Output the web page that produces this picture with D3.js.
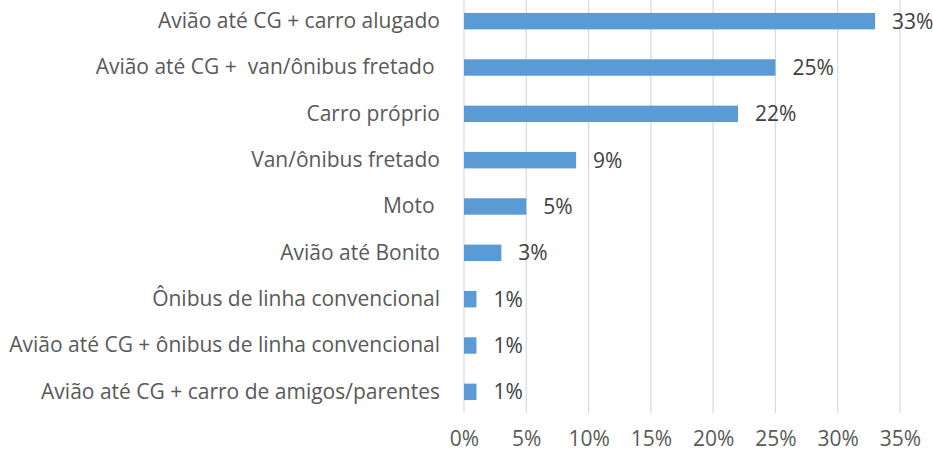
<!DOCTYPE html>
<html>
<head>
<meta charset="utf-8">
<script src="https://d3js.org/d3.v7.min.js"></script>
<style>
  body { margin: 0; background: #fff; }
  text { font-family: "Open Sans", sans-serif; white-space: pre; }
</style>
</head>
<body>
<svg id="drawing_region"></svg>
<script>
const categories = [
    "Avião até CG + carro alugado",
    "Avião até CG +  van/ônibus fretado ",
    "Carro próprio",
    "Van/ônibus fretado",
    "Moto ",
    "Avião até Bonito",
    "Ônibus de linha convencional",
    "Avião até CG + ônibus de linha convencional",
    "Avião até CG + carro de amigos/parentes"
];
const values = [33, 25, 22, 9, 5, 3, 1, 1, 1];
const xticks = [0, 5, 10, 15, 20, 25, 30, 35];

const width = 933, height = 459;
const x0 = 464, x1 = 900, ytop = -2, ybot = 415;
const fontSize = '21px';

const svg = d3.select('#drawing_region')
    .attr('width', width)
    .attr('height', height);

const xscale = d3.scaleLinear().domain([0, 35]).range([x0, x1]);
const yscale = d3.scaleBand().domain(categories).range([ytop, ybot]).paddingInner(0.645).paddingOuter(0.3225);

// gridlines
svg.append('g').selectAll('line')
    .data(xticks)
    .join('line')
    .attr('x1', d => xscale(d)).attr('x2', d => xscale(d))
    .attr('y1', 0).attr('y2', 413)
    .attr('stroke', '#d9d9d9')
    .attr('stroke-width', 1.2);

// bars
svg.append('g').selectAll('rect')
    .data(values)
    .join('rect')
    .attr('x', xscale(0))
    .attr('y', (d, i) => yscale(categories[i]))
    .attr('width', d => xscale(d) - xscale(0))
    .attr('height', yscale.bandwidth())
    .attr('fill', '#5b9bd5');

// data labels
svg.append('g').selectAll('text')
    .data(values)
    .join('text')
    .attr('x', d => xscale(d) + 17)
    .attr('y', (d, i) => yscale(categories[i]) + yscale.bandwidth() / 2)
    .attr('dy', '0.35em')
    .attr('font-size', fontSize)
    .attr('fill', '#404040')
    .text(d => d + '%');

// category labels
const yaxis = d3.axisLeft(yscale).tickSize(0).tickPadding(0);
svg.append('g')
    .attr('transform', `translate(${x0 - 24}, 0)`)
    .call(yaxis)
    .call(g => g.select('.domain').remove())
    .selectAll('text')
    .attr('font-size', fontSize)
    .attr('font-family', '"Open Sans", sans-serif')
    .attr('fill', '#595959');

// x axis tick labels
const xaxis = d3.axisBottom(xscale).tickValues(xticks).tickSize(0).tickPadding(0).tickFormat(d => d + '%');
svg.append('g')
    .attr('transform', `translate(0, 431)`)
    .call(xaxis)
    .call(g => g.select('.domain').remove())
    .selectAll('text')
    .attr('font-size', fontSize)
    .attr('font-family', '"Open Sans", sans-serif')
    .attr('fill', '#595959');
</script>
</body>
</html>
